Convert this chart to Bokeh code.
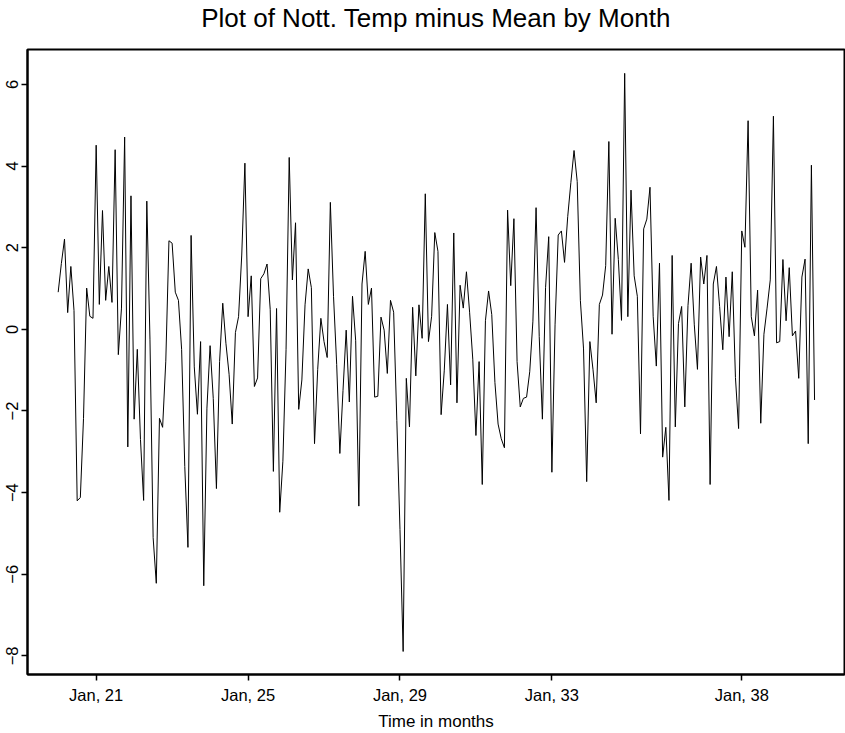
from bokeh.plotting import figure
from bokeh.models import FixedTicker, Range1d, Title
from bokeh.embed import file_html
from bokeh.resources import INLINE

start_year = 1920
# Nottingham temperature minus monthly mean (deg F), Jan 1920 .. Dec 1939
anomaly = [
    0.91, 1.61, 2.21, 0.41, 1.54, 0.46, -4.20, -4.12, -2.18, 1.01, 0.32, 0.27,     # 1920
    4.51, 0.61, 2.91, 0.71, 1.54, 0.66, 4.40, -0.62, 0.52, 4.71, -2.88, 3.27,      # 1921
    -2.20, -0.49, -2.70, -4.19, 3.14, -0.24, -5.10, -6.22, -2.18, -2.40, -0.78, 2.17,  # 1922
    2.11, 0.91, 0.71, -0.49, -3.36, -5.34, 2.30, -0.92, -2.08, -0.30, -6.28, -1.93,    # 1923
    -0.40, -1.69, -3.90, -0.79, 0.64, -0.34, -1.10, -2.32, -0.08, 0.31, 1.82, 4.07,    # 1924
    0.31, 1.31, -1.40, -1.19, 1.24, 1.36, 1.60, 0.48, -3.48, 0.51, -4.48, -3.23,       # 1925
    -0.50, 4.21, 1.21, 2.61, -1.96, -1.24, 0.60, 1.48, 1.02, -2.80, -0.98, 0.27,       # 1926
    -0.30, -0.69, 3.11, 0.81, -0.86, -3.04, -1.50, -0.02, -1.78, 0.81, -0.28, -4.33,   # 1927
    1.11, 1.91, 0.61, 1.01, -1.66, -1.64, 0.30, -0.02, -1.08, 0.71, 0.42, -2.23,       # 1928
    -4.90, -7.89, -1.20, -2.39, 0.54, -1.14, 0.60, -0.22, 3.32, -0.30, 0.32, 2.37,     # 1929
    1.91, -2.09, -1.00, 0.61, -1.36, 2.36, -1.80, 1.08, 0.52, 1.41, 0.42, -0.73,       # 1930
    -2.60, -0.79, -3.80, 0.21, 0.94, 0.36, -1.30, -2.32, -2.68, -2.90, 2.92, 1.07,     # 1931
    2.71, -0.79, -1.90, -1.69, -1.66, -1.04, 0.20, 2.98, -0.18, -2.20, 1.02, 2.27,     # 1932
    -3.50, 0.11, 2.31, 2.41, 1.64, 2.76, 3.60, 4.38, 3.62, 0.71, -0.48, -3.73,         # 1933
    -0.30, -0.99, -1.80, 0.61, 0.84, 1.56, 4.60, -0.12, 2.72, 1.71, 0.22, 6.27,        # 1934
    0.31, 3.41, 1.31, 0.81, -2.56, 2.46, 2.70, 3.48, 0.32, -0.90, 1.62, -3.13,         # 1935
    -2.40, -4.19, 1.81, -2.39, 0.14, 0.56, -1.90, 0.58, 1.62, 0.11, -0.98, 1.77,       # 1936
    1.11, 1.81, -3.80, 1.11, 1.54, 0.56, -0.50, 1.28, -0.18, 1.41, -1.18, -2.43,       # 1937
    2.41, 2.01, 5.11, 0.31, -0.16, 0.96, -2.30, -0.12, 0.52, 1.21, 5.22, -0.33,        # 1938
    -0.30, 1.71, 0.21, 1.51, -0.16, -0.04, -1.20, 1.28, 1.72, -2.80, 4.02, -1.73,      # 1939
]
tick_years = [1921, 1925, 1929, 1933, 1938]
tick_labels = ["Jan, 21", "Jan, 25", "Jan, 29", "Jan, 33", "Jan, 38"]
y_ticks = [-8, -6, -4, -2, 0, 2, 4, 6]
title_text = "Plot of Nott. Temp minus Mean by Month"
x_title = "Time in months"

t = [start_year + i / 12 for i in range(len(anomaly))]

FONT = "Liberation Sans"
W, H = 845, 733

p = figure(
    width=W, height=H,
    output_backend="svg", toolbar_location=None,
    x_range=Range1d(1919.192, 1940.705),
    y_range=Range1d(-8.454, 6.854),
    title=None,
    min_border_left=27, min_border_right=1,
    min_border_top=48, min_border_bottom=58,
)

p.line(t, anomaly, line_color="black", line_width=1)

p.xgrid.visible = False
p.ygrid.visible = False
p.outline_line_color = "black"
p.outline_line_width = 2
p.outline_line_alpha = 1.0

p.xaxis.ticker = FixedTicker(ticks=tick_years)
p.xaxis.major_label_overrides = {y: l for y, l in zip(tick_years, tick_labels)}
p.yaxis.ticker = FixedTicker(ticks=y_ticks)
p.yaxis.major_label_orientation = "vertical"

for ax in (p.xaxis, p.yaxis):
    ax.axis_line_color = "black"
    ax.axis_line_width = 2
    ax.major_tick_line_color = "black"
    ax.major_tick_line_width = 1.5
    ax.major_tick_in = 0
    ax.major_tick_out = 6
    ax.minor_tick_line_color = None
    ax.major_label_text_font = FONT
    ax.major_label_text_font_size = "16.5px"
    ax.major_label_text_color = "black"

p.xaxis.major_label_standoff = 5
p.yaxis.major_label_standoff = 3

# spacer between the frame and the main title (pushes the title upward)
p.add_layout(Title(text=" ", text_font=FONT, text_font_size="8px", standoff=6), "above")
p.add_layout(Title(
    text=title_text, align="center", text_font=FONT, text_font_size="26px",
    text_font_style="normal", text_color="black", standoff=0,
), "above")

# x-axis title below the tick labels
p.add_layout(Title(
    text=x_title, align="center", text_font=FONT, text_font_size="17px",
    text_font_style="normal", text_color="black", standoff=6,
), "below")

open("out.html", "w").write(file_html(p, INLINE))
